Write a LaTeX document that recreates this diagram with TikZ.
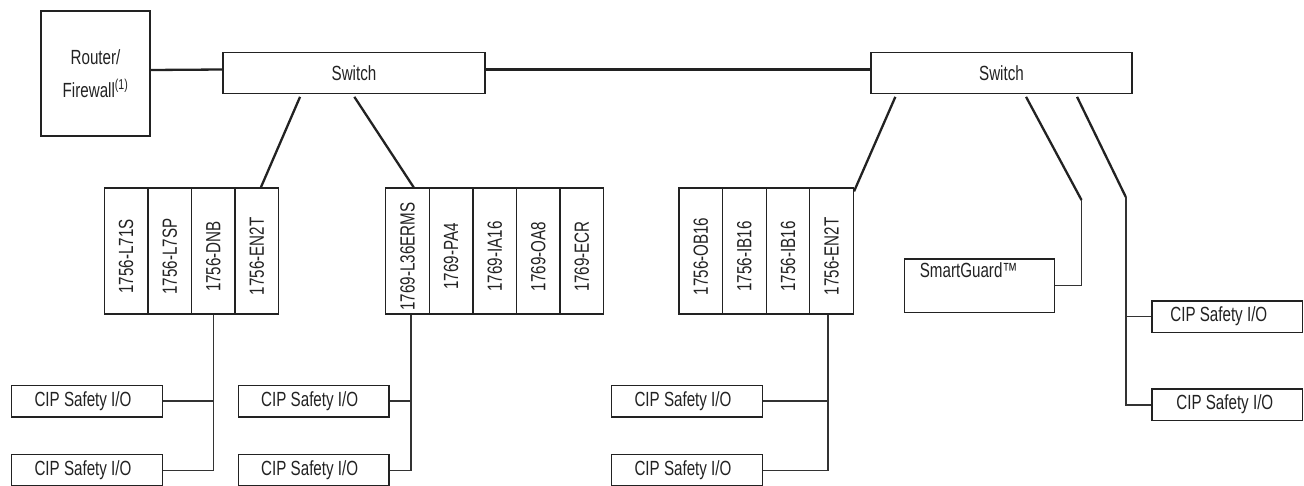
\documentclass[tikz,border=0pt]{standalone}
\usepackage{fontspec}
\setmainfont{Liberation Sans}
\newcommand\cn[1]{\scalebox{0.74}[1]{#1}}
\newcommand\rk[1]{\rotatebox{90}{\cn{#1}\hspace*{11pt}}}
\definecolor{ink}{HTML}{222222}
\definecolor{wire}{HTML}{333333}
\begin{document}
\begin{tikzpicture}[x=1pt,y=-1pt,
  every node/.style={font=\fontsize{20.5}{24}\selectfont, text=ink},
  box/.style={draw=ink, line width=1.3pt, inner sep=0pt},
  slot/.style={box, minimum width=43.6pt, minimum height=126pt},
  cip/.style={box, minimum width=150.6pt, minimum height=31.7pt},
  sw/.style={box, minimum height=41pt},
  trunk/.style={draw=ink, line width=2.3pt},
  drop/.style={draw=wire, line width=1.4pt}]
\useasboundingbox (0,0) rectangle (1304,485);
\begin{scope}
\clip (0,0) rectangle (1304,485);
% router and switches
\node[box, minimum width=109pt, minimum height=125pt, align=center] (router) at (95.5,73.5)
  {\cn{Router/}\\[9pt]\cn{Firewall\textsuperscript{(1)}}};
\node[sw, minimum width=262pt] (sw1) at (354,73) {\cn{Switch}};
\node[sw, minimum width=261pt] (sw2) at (1001.5,73) {\cn{Switch}};
% rack 1
\node[slot] (r1a) at (126.1,251) {\rk{1756-L71S}};
\node[slot] (r1b) at (169.7,251) {\rk{1756-L7SP}};
\node[slot] (r1c) at (213.3,251) {\rk{1756-DNB}};
\node[slot] (r1d) at (256.9,251) {\rk{1756-EN2T}};
% rack 2
\node[slot] (r2a) at (407.5,251) {\rk{1769-L36ERMS}};
\node[slot] (r2b) at (451.1,251) {\rk{1769-PA4}};
\node[slot] (r2c) at (494.7,251) {\rk{1769-IA16}};
\node[slot] (r2d) at (538.3,251) {\rk{1769-OA8}};
\node[slot] (r2e) at (581.9,251) {\rk{1769-ECR}};
% rack 3
\node[slot] (r3a) at (700.8,251) {\rk{1756-OB16}};
\node[slot] (r3b) at (744.4,251) {\rk{1756-IB16}};
\node[slot] (r3c) at (788.0,251) {\rk{1756-IB16}};
\node[slot] (r3d) at (831.6,251) {\rk{1756-EN2T}};
% SmartGuard
\node[box, minimum width=150.4pt, minimum height=53.3pt] (sg) at (979.5,285.7) {};
\node[anchor=north west, inner sep=0pt] (sgt) at ([xshift=16pt,yshift=-4pt]sg.north west) {\cn{SmartGuard™}};
% CIP safety I/O
\node[cip] (c1a) at (87,401) {\hspace*{-8pt}\cn{CIP Safety I/O}};
\node[cip] (c1b) at (87,470.2) {\hspace*{-8pt}\cn{CIP Safety I/O}};
\node[cip] (c2a) at (313.7,401) {\hspace*{-8pt}\cn{CIP Safety I/O}};
\node[cip] (c2b) at (313.7,470.2) {\hspace*{-8pt}\cn{CIP Safety I/O}};
\node[cip] (c3a) at (687,401) {\hspace*{-8pt}\cn{CIP Safety I/O}};
\node[cip] (c3b) at (687,470.2) {\hspace*{-8pt}\cn{CIP Safety I/O}};
\node[cip] (c4a) at (1227.3,316.7) {\raisebox{5pt}{\cn{CIP Safety I/O}}\hspace*{17pt}};
\node[cip] (c4b) at (1227.3,404.8) {\raisebox{6pt}{\cn{CIP Safety I/O}}\hspace*{5pt}};
% trunk connectors
\draw[trunk] ([yshift=3.5pt]router.east) -- ([yshift=3.5pt]sw1.west);
\draw[trunk] ([yshift=3.5pt]sw1.east) -- ([yshift=3.5pt]sw2.west);
\draw[trunk] ([xshift=77.7pt,yshift=-2.7pt]sw1.south west) -- ([xshift=4pt]r1d.north);
\draw[trunk] ([xshift=132pt,yshift=-2.7pt]sw1.south west) -- ([xshift=6.2pt]r2a.north);
\draw[trunk] ([xshift=25pt,yshift=-2.7pt]sw2.south west) -- ([yshift=-4pt]r3d.north east);
\coordinate (k1) at (1081.5,200);
\coordinate (k2) at (1125.8,197);
\draw[trunk] ([xshift=155.7pt,yshift=-2.7pt]sw2.south west) -- (k1);
\draw[trunk] ([xshift=206.7pt,yshift=-2.7pt]sw2.south west) -- (k2);
% drops
\coordinate (d1) at ([xshift=0.4pt]r1c.south);
\coordinate (d2) at ([xshift=3.5pt]r2a.south);
\coordinate (d3) at ([xshift=-3.6pt]r3d.south);
\draw[drop] (k1) |- (sg.east);
\draw[drop] (k2) |- (c4b.west);
\draw[drop] (c4a.west) -- (c4a.west -| k2);
\draw[drop] (d1) |- (c1b.east);
\draw[drop] (c1a.east) -- (c1a.east -| d1);
\draw[drop] (d2) |- (c2b.east);
\draw[drop] (c2a.east) -- (c2a.east -| d2);
\draw[drop] (d3) |- (c3b.east);
\draw[drop] (c3a.east) -- (c3a.east -| d3);
\end{scope}
\end{tikzpicture}
\end{document}
